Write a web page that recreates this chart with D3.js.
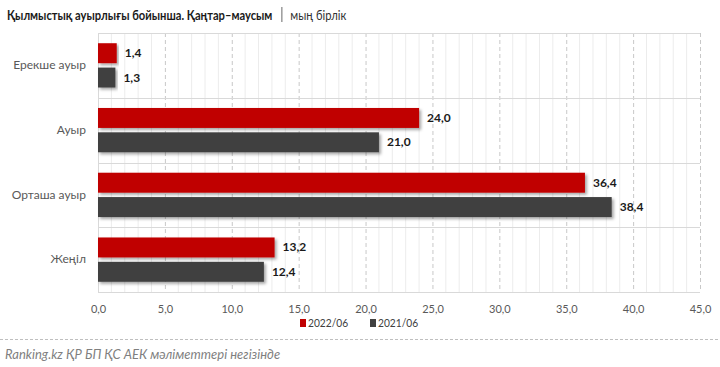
<!DOCTYPE html>
<html><head><meta charset="utf-8">
<script src="https://cdn.jsdelivr.net/npm/d3@7"></script>
<style>
body{margin:0;background:#fff;}
svg{display:block;font-family:Lato,"Open Sans",sans-serif;}
</style></head>
<body><svg id="c" width="720" height="367"></svg>
<script>
const categories = ["Ерекше ауыр","Ауыр","Орташа ауыр","Жеңіл"];
const series2022 = [1.4,24.0,36.4,13.2];
const series2021 = [1.3,21.0,38.4,12.4];
const seriesNames = ["2022/06","2021/06"];
const colors = ["#C00000","#404040"];
const xTicks = [0,5,10,15,20,25,30,35,40,45];

const svg = d3.select("#c");
const m = {l:98, r:700, t:33, b:292};
const x = d3.scaleLinear().domain([0,45]).range([m.l,m.r]);
const y = d3.scaleBand().domain(categories).range([m.t,m.b]);
const inner = d3.scaleBand().domain(seriesNames).range([0,y.bandwidth()]).paddingOuter(0.42).paddingInner(0.18);
const fmt = v => d3.format(".1f")(v).replace(".",",");

const defs = svg.append("defs");
const f = defs.append("filter").attr("id","sh").attr("x","-5%").attr("y","-20%").attr("width","115%").attr("height","160%");
f.append("feDropShadow").attr("dx",2).attr("dy",2).attr("stdDeviation",1.6).attr("flood-color","#000").attr("flood-opacity",0.35);

// title (horizontally condensed to match the narrow original face)
const sx = 0.8;
const t1 = svg.append("text").attr("transform",`translate(7,20) scale(${sx},1)`).attr("font-size",14)
 .attr("font-weight","bold").attr("fill","#1a1a1a").text("Қылмыстық ауырлығы бойынша. Қаңтар–маусым");
const w1 = t1.node().getComputedTextLength()*sx + 7;
svg.append("line").attr("x1",w1+9.5).attr("x2",w1+9.5).attr("y1",7).attr("y2",22).attr("stroke","#8c8c8c").attr("stroke-width",1.3);
svg.append("text").attr("transform",`translate(${w1+18},20) scale(${sx},1)`).attr("font-size",14)
 .attr("fill","#333").text("мың бірлік");

// grid minor
const g = svg.append("g");
g.selectAll("line.minor").data(d3.range(1,45).filter(v=>v%5!==0)).enter().append("line")
 .attr("x1",d=>x(d)).attr("x2",d=>x(d)).attr("y1",m.t).attr("y2",m.b)
 .attr("stroke","#ececec").attr("stroke-width",1);
g.selectAll("line.major").data(xTicks.slice(1)).enter().append("line")
 .attr("x1",d=>x(d)+0.5).attr("x2",d=>x(d)+0.5).attr("y1",m.t).attr("y2",m.b)
 .attr("stroke","#c8c8c8").attr("stroke-dasharray","4,3").attr("stroke-width",1);
// horizontal separators
const seps = categories.map(c=>y(c)).concat([m.b]);
g.selectAll("line.sep").data(seps).enter().append("line")
 .attr("x1",m.l).attr("x2",m.r).attr("y1",d=>Math.round(d)+0.5).attr("y2",d=>Math.round(d)+0.5)
 .attr("stroke","#d9d9d9");
g.append("line").attr("x1",m.l+0.5).attr("x2",m.l+0.5).attr("y1",m.t).attr("y2",m.b).attr("stroke","#d9d9d9");

// x axis
const xa = svg.append("g").attr("transform",`translate(0,${m.b})`)
 .call(d3.axisBottom(x).tickValues(xTicks).tickFormat(fmt).tickSize(0).tickPadding(13));
xa.select(".domain").remove();
xa.selectAll("text").attr("font-size",11).attr("fill","#595959").attr("font-family","Lato,sans-serif");

// y labels
const ya = svg.append("g").attr("transform",`translate(${m.l},0)`)
 .call(d3.axisLeft(y).tickSize(0).tickPadding(12));
ya.select(".domain").remove();
ya.selectAll("text").attr("font-size",12).attr("fill","#595959").attr("font-family","Lato,sans-serif");

// bars
const data = categories.map((c,i)=>({c, vals:[series2022[i],series2021[i]]}));
const grp = svg.append("g").selectAll("g").data(data).enter().append("g")
 .attr("transform",d=>`translate(0,${y(d.c)})`);
grp.selectAll("rect").data(d=>d.vals.map((v,j)=>({v,j}))).enter().append("rect")
 .attr("x",x(0)).attr("y",d=>inner(seriesNames[d.j])).attr("height",inner.bandwidth())
 .attr("width",d=>x(d.v)-x(0)).attr("fill",d=>colors[d.j]).attr("filter","url(#sh)");
grp.selectAll("text").data(d=>d.vals.map((v,j)=>({v,j}))).enter().append("text")
 .attr("x",d=>x(d.v)+8).attr("y",d=>inner(seriesNames[d.j])+inner.bandwidth()/2+4)
 .attr("font-size",12).attr("font-weight","bold").attr("fill","#1a1a1a").text(d=>fmt(d.v));

// legend
const lg = svg.append("g").attr("transform","translate(300,326)");
seriesNames.forEach((s,i)=>{
  const gx = i*70;
  lg.append("rect").attr("x",gx).attr("y",-7).attr("width",6).attr("height",8).attr("fill",colors[i]);
  lg.append("text").attr("transform",`translate(${gx+8},1) scale(0.85,1)`).attr("font-size",12).attr("fill","#404040").text(s);
});

// dashed separator
svg.append("line").attr("x1",0).attr("x2",720).attr("y1",339.5).attr("y2",339.5)
 .attr("stroke","#bfbfbf").attr("stroke-dasharray","3,2");

// source
svg.append("text").attr("x",5).attr("y",359).attr("font-size",13).attr("font-style","italic")
 .attr("fill","#7f7f7f").text("Ranking.kz ҚР БП ҚС АЕК мәліметтері негізінде");
</script></body></html>
